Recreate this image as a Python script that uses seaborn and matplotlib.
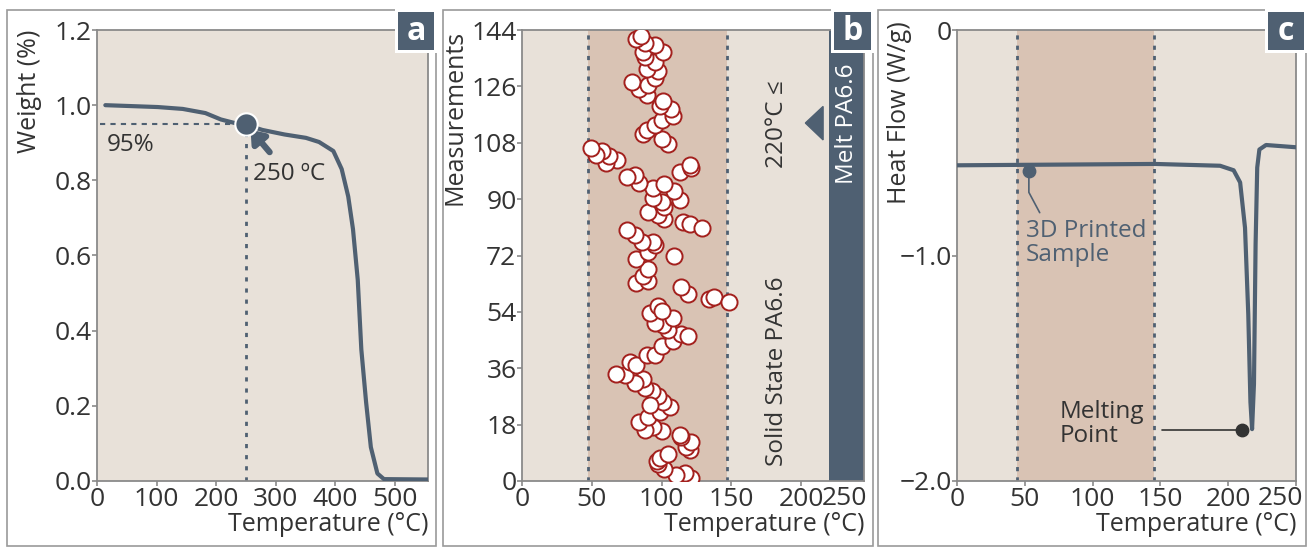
import numpy as np
import pandas as pd
import matplotlib
matplotlib.use("Agg")
import matplotlib.pyplot as plt
import seaborn as sns
from matplotlib.patches import Rectangle, Polygon

# ---------------- data ----------------
# Panel a: TGA curve
tga_temp = [14, 102, 144, 182, 208, 235, 250, 278, 315, 351, 373, 397, 411, 422,
            430, 438, 444, 452, 460, 471, 482, 556]
tga_weight = [1.0, 0.995, 0.99, 0.979, 0.962, 0.951, 0.948, 0.934, 0.922, 0.913,
              0.902, 0.878, 0.83, 0.757, 0.67, 0.535, 0.35, 0.21, 0.09, 0.02,
              0.005, 0.004]

# Panel b: measured temperatures
meas_temp = [121, 116.5, 110.6, 102, 97.6, 96.5, 98.8, 104.7, 120, 117.6, 121, 114,
             113, 100, 94, 88, 83.5, 90.6, 98.8, 105.9, 101, 97.6, 93, 91.8, 88,
             87, 81, 74, 67, 77.6, 82, 89.4, 95, 100, 108, 114, 118.8, 104.7, 101,
             95, 108, 91.8, 97.6, 100, 118.8, 114, 134, 137.6, 148, 82, 90.6, 87,
             90.6, 82, 109, 90.6, 95, 94, 86, 81, 75, 102, 97.6, 90.6, 115, 120,
             129, 102, 100, 94, 113, 109, 94, 102, 83.5, 81, 75, 113, 121, 120,
             68, 60, 62, 57.6, 53, 49.4, 104.7, 100, 87, 89.4, 95, 100, 108, 107,
             98.8, 101, 89.4, 83.5, 78.8, 90.6, 95, 97.6, 89.4, 95, 88, 86.8, 101,
             95, 88, 82, 85.4]
meas_index = [1, 2.5, 1.8, 3.7, 5.3, 6.4, 7.5, 8.7, 9.8, 10.9, 12.6, 14.2, 14.8,
              15.9, 17.3, 16.4, 18.7, 20.3, 22, 23.7, 25.3, 27, 28.7, 24.2, 29.8,
              32.6, 31.4, 33.7, 34.2, 38.1, 37, 40.3, 40.3, 43, 44.8, 47, 46.4,
              48.1, 49.8, 50.3, 52, 53.7, 55.9, 54.2, 59.8, 62, 58.1, 58.9, 57,
              63.1, 63.7, 65.3, 67.6, 70.9, 72, 73.1, 75.3, 76.4, 76.4, 78.7, 80.3,
              83.7, 84.8, 85.9, 82.6, 82, 80.9, 87.6, 89.2, 90.3, 89.8, 92.6, 93.7,
              94.8, 95.3, 97.6, 97, 98.7, 99.8, 100.9, 102.6, 101.4, 103.7, 105.3,
              104.2, 106.4, 107.6, 109.2, 110.9, 112, 113.7, 115.3, 116.4, 118.7,
              119.8, 121.4, 123.1, 125.3, 127.3, 126.4, 128.7, 130.9, 131.4, 133.7,
              135.3, 137, 137, 139.2, 139.8, 141.1, 142]

# Panel c: DSC curve
dsc_temp = [0, 146, 194, 204, 208.8, 212.4, 214.8, 216.4, 217.6, 219, 220.2, 221.4,
            223, 227.9, 250]
dsc_flow = [-0.60, -0.594, -0.602, -0.622, -0.676, -0.877, -1.26, -1.65, -1.77,
            -1.57, -0.95, -0.61, -0.53, -0.51, -0.52]

a_xticks = [0, 100, 200, 300, 400, 500]
a_yticks = [0.0, 0.2, 0.4, 0.6, 0.8, 1.0, 1.2]
b_xticks = [0, 50, 100, 150, 200]
b_last_label = "250"
b_yticks = [0, 18, 36, 54, 72, 90, 108, 126, 144]
c_xticks = [0, 50, 100, 150, 200, 250]
c_yticks = [0, -1.0, -2.0]
c_yticklabels = ["0", "\u22121.0", "\u22122.0"]

# ---------------- style ----------------
sns.set_theme(style="ticks")
plt.rcParams['font.family'] = ['Open Sans', 'DejaVu Sans']

BG = "#e8e1d9"
BAND = "#d9c3b4"
SLATE = "#4f6072"
RED = "#a3201d"
TXT = "#333333"
SPINE = "#8a8a8a"
FS_TICK = 19
FS_LAB = 18
FS = 17.5

W, H = 1314, 547
fig = plt.figure(figsize=(W / 100, H / 100), dpi=100)
fig.patch.set_facecolor("white")


def px_axes(l, r, t, b):
    return fig.add_axes([l / W, 1 - b / H, (r - l) / W, (b - t) / H])


axa = px_axes(97, 428, 30, 481)
axb = px_axes(522, 864, 30, 481)
axc = px_axes(957, 1296, 30, 481)

for ax in (axa, axb, axc):
    ax.set_facecolor(BG)
    for s in ax.spines.values():
        s.set_color(SPINE)
        s.set_linewidth(1.3)
    ax.tick_params(axis="both", colors=SPINE, labelcolor=TXT, labelsize=FS_TICK,
                   length=3.5, width=1.2, pad=0.5)

# ---------- panel a ----------
df_a = pd.DataFrame({"T": tga_temp, "W": tga_weight})
sns.lineplot(data=df_a, x="T", y="W", ax=axa, color=SLATE, lw=3, zorder=3)
axa.set_xticks(a_xticks)
axa.set_yticks(a_yticks)
axa.set_yticklabels([f"{v:.1f}" for v in a_yticks])
axa.set_xlim(0, 556)
axa.set_ylim(0, 1.2)
axa.plot([5, 250], [0.95, 0.95], ls=(0, (2.5, 2.5)), color=SLATE, lw=1.5, zorder=2)
axa.plot([250, 250], [0, 0.95], ls=(0, (1.5, 2.5)), color=SLATE, lw=2, zorder=2)
axa.scatter([250], [0.95], s=260, color=SLATE, edgecolor="white", lw=1.5, zorder=5)
axa.text(16, 0.893, "95%", fontsize=FS, color=TXT, va="center")
axa.text(262, 0.818, "250 \u00baC", fontsize=FS, color=TXT, va="center")
axa.annotate("", xy=(258, 0.935), xytext=(290, 0.875),
             arrowprops=dict(arrowstyle="-|>,head_length=0.6,head_width=0.45",
                             lw=4.5, color=SLATE, shrinkA=0, shrinkB=0), zorder=4)
axa.set_xlabel("Temperature (\u00b0C)", fontsize=FS_LAB, color=TXT, loc="right", labelpad=0)
axa.set_ylabel("Weight (%)", fontsize=FS_LAB, color=TXT, loc="top")
axa.yaxis.set_label_coords(-0.166, 1.0)

# ---------- panel b ----------
axb.set_xticks(b_xticks)
axb.set_yticks(b_yticks)
axb.set_xticklabels([str(v) for v in b_xticks])
axb.set_xlim(0, 245)
axb.set_ylim(0, 144)
axb.axvspan(47, 147, color=BAND, zorder=0, lw=0)
for xv in (47, 147):
    axb.axvline(xv, ls=(0, (1.5, 2.2)), color=SLATE, lw=2, zorder=1)
axb.axvspan(220, 245, color=SLATE, zorder=1, lw=0)
df_b = pd.DataFrame({"T": meas_temp, "M": meas_index})
sns.scatterplot(data=df_b, x="T", y="M", ax=axb, s=135, color="white",
                edgecolor=RED, linewidth=1.4, zorder=3, legend=False)
axb.text(1.01, -0.012, b_last_label, transform=axb.transAxes, ha="right", va="top",
         fontsize=FS_TICK, color=TXT)
axb.text(232.5, 114, "Melt PA6.6", rotation=90, color="white", fontsize=FS,
         ha="center", va="center", zorder=4)
axb.add_patch(Polygon([[203, 114.3], [215.7, 108.9], [215.7, 119.6]], closed=True,
                      color=SLATE, zorder=4, clip_on=False))
axb.text(183, 114, "220\u00b0C \u2264", rotation=90, color=TXT, fontsize=FS,
         ha="center", va="center")
axb.text(183, 35, "Solid State PA6.6", rotation=90, color=TXT, fontsize=FS,
         ha="center", va="center")
axb.set_xlabel("Temperature (\u00b0C)", fontsize=FS_LAB, color=TXT, loc="right", labelpad=0)
axb.set_ylabel("Measurements", fontsize=FS_LAB, color=TXT, loc="top")
axb.yaxis.set_label_coords(-0.158, 1.0)

# ---------- panel c ----------
axc.set_xticks(c_xticks)
axc.set_yticks(c_yticks)
axc.set_yticklabels(c_yticklabels)
axc.set_xticklabels([str(v) for v in c_xticks[:-1]] + [""])
axc.set_xlim(0, 250)
axc.set_ylim(-2.0, 0)
axc.text(1.0 + 7 / 339, -0.012, str(c_xticks[-1]), transform=axc.transAxes,
         ha="right", va="top", fontsize=FS_TICK, color=TXT)
axc.axvspan(44, 145, color=BAND, zorder=0, lw=0)
for xv in (44, 145):
    axc.axvline(xv, ls=(0, (1.5, 2.2)), color=SLATE, lw=2, zorder=1)
df_c = pd.DataFrame({"T": dsc_temp, "F": dsc_flow})
sns.lineplot(data=df_c, x="T", y="F", ax=axc, color=SLATE, lw=3, zorder=3)
axc.plot([53, 53, 61], [-0.625, -0.72, -0.81], color=SLATE, lw=1.2, zorder=4)
axc.scatter([53], [-0.625], s=80, color=SLATE, zorder=5)
axc.text(51, -0.84, "3D Printed\nSample", color=SLATE, fontsize=FS,
         va="top", ha="left", linespacing=1.0)
axc.plot([151, 210.5], [-1.775, -1.775], color=TXT, lw=1.2, zorder=4)
axc.scatter([210.5], [-1.775], s=80, color=TXT, zorder=5)
axc.text(76, -1.64, "Melting\nPoint", color=TXT, fontsize=FS,
         va="top", ha="left", linespacing=1.0)
axc.set_xlabel("Temperature (\u00b0C)", fontsize=FS_LAB, color=TXT, loc="right", labelpad=0)
axc.set_ylabel("Heat Flow (W/g)", fontsize=FS_LAB, color=TXT, loc="top")
axc.yaxis.set_label_coords(-0.133, 1.02)

# ---------- panel frames and labels ----------
frames = [(7, 436), (443, 873), (878, 1306)]
for (l, r) in frames:
    fig.patches.append(Rectangle((l / W, 1 / H), (r - l) / W, (H - 11) / H,
                                 transform=fig.transFigure, fill=False,
                                 edgecolor="#9a9a9a", lw=1.2, zorder=0))

labels = [("a", 398, 434), ("b", 834, 871), ("c", 1268, 1304)]
for (lab, l, r) in labels:
    t, b = 12, 50
    fig.patches.append(Rectangle(((l - 3) / W, 1 - (b + 3) / H), (r - l + 6) / W,
                                 (b - t + 6) / H, transform=fig.transFigure,
                                 facecolor="white", edgecolor="none", zorder=10))
    fig.patches.append(Rectangle((l / W, 1 - b / H), (r - l) / W, (b - t) / H,
                                 transform=fig.transFigure, facecolor=SLATE,
                                 edgecolor="none", zorder=11))
    fig.text((l + r) / 2 / W, 1 - (t + b) / 2 / H, lab, color="white",
             fontsize=23, fontweight="bold", ha="center", va="center", zorder=12)

fig.savefig("out.png", dpi=100, facecolor="white")
